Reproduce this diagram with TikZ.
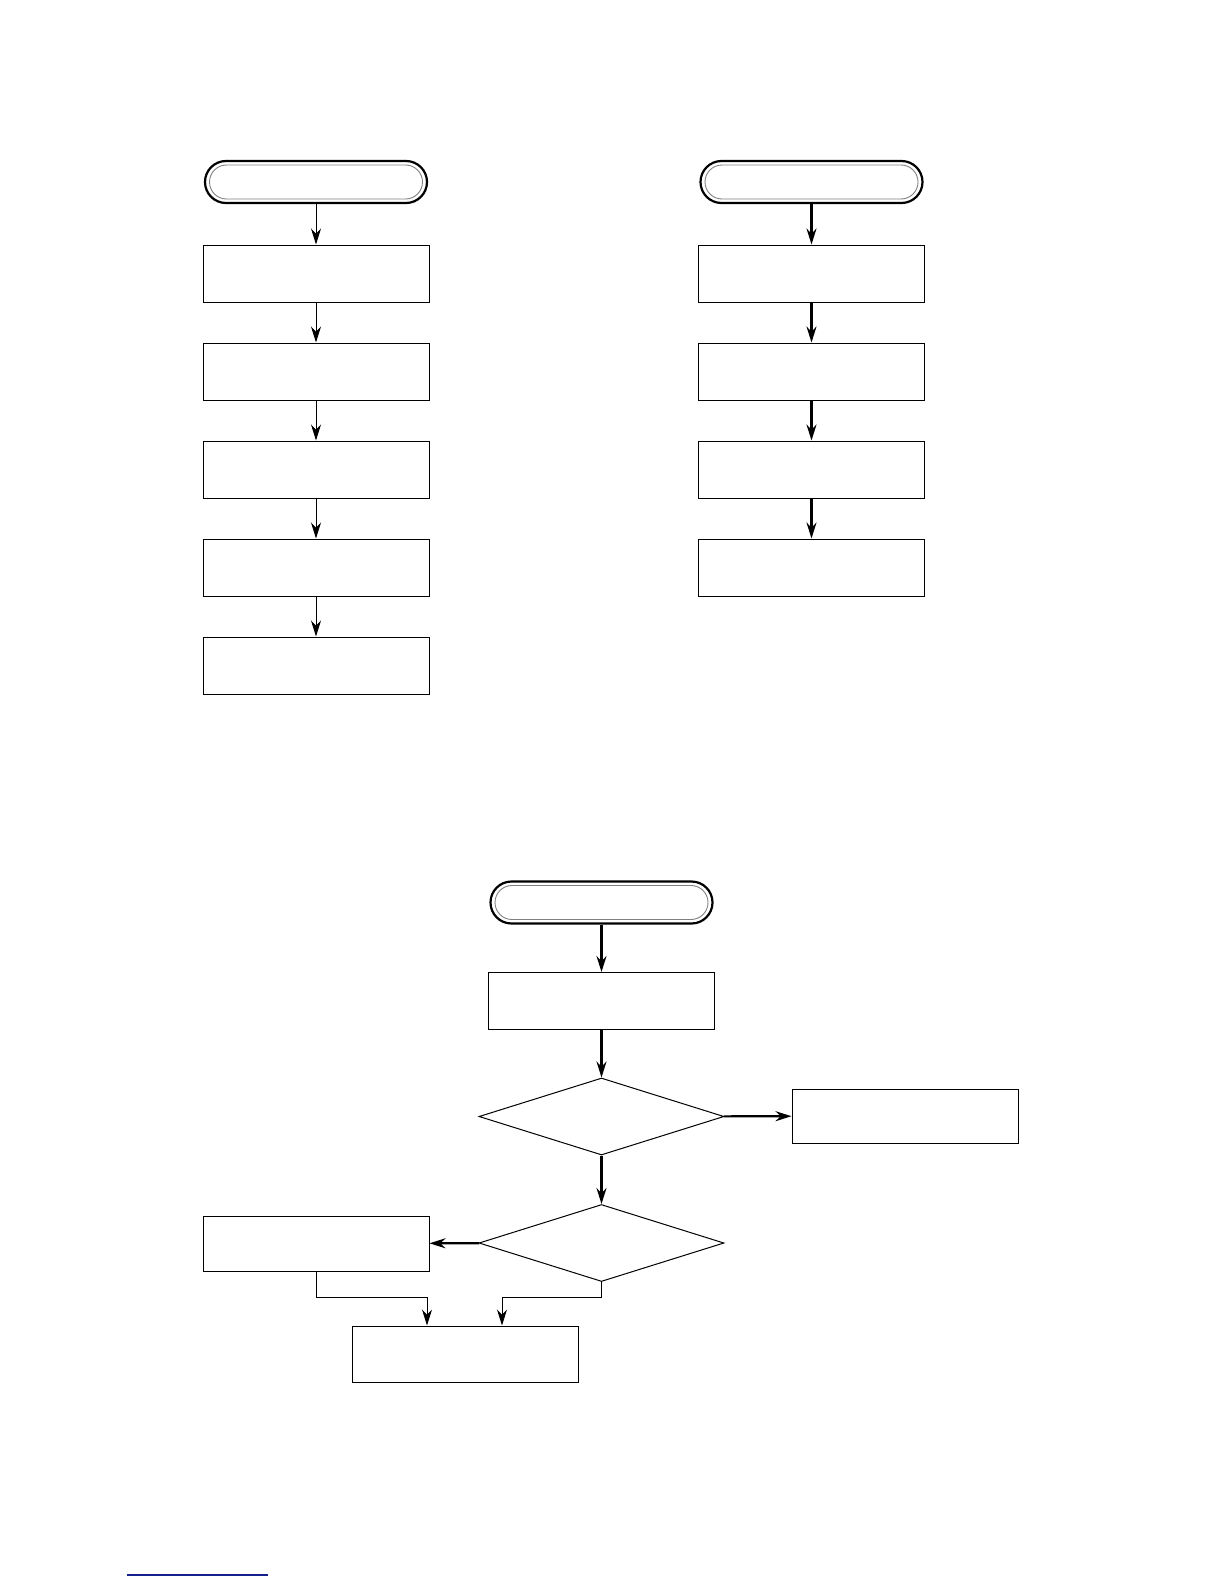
\documentclass[tikz,border=0pt]{standalone}
\usetikzlibrary{shapes.misc,shapes.geometric,arrows.meta}
\tikzset{
  termbox/.style={rounded rectangle, draw, line width=1.1pt,
    minimum width=111pt, minimum height=21pt, inner sep=0pt,
    append after command={node[rounded rectangle, draw=gray, line width=0.45pt,
      minimum width=106.5pt, minimum height=17pt, inner sep=0pt] at (\tikzlastnode) {}}},
  procbox/.style={rectangle, draw, line width=0.5pt, minimum width=113pt, minimum height=28.5pt, inner sep=0pt},
  decbox/.style={diamond, draw, line width=0.5pt, minimum width=122.5pt, minimum height=38.5pt, inner sep=0pt},
  thinflow/.style={-{Stealth[length=8pt,width=5pt]}, line width=0.45pt},
  flow/.style={-{Stealth[length=8pt,width=5pt]}, line width=1.05pt},
}
\begin{document}
\begin{tikzpicture}[x=0.5pt,y=-0.5pt]
\useasboundingbox (0,0) rectangle (1224,1584);
% left column
\node[termbox] (ls) at (316,182) {};
\node[procbox] (l1) at (316,273.5) {};
\node[procbox] (l2) at (316,371.5) {};
\node[procbox] (l3) at (316,469.5) {};
\node[procbox] (l4) at (316,567.5) {};
\node[procbox] (l5) at (316,665.5) {};
\draw[thinflow] (ls) -- (l1);
\draw[thinflow] (l1) -- (l2);
\draw[thinflow] (l2) -- (l3);
\draw[thinflow] (l3) -- (l4);
\draw[thinflow] (l4) -- (l5);
% right column
\node[termbox] (rs) at (811.5,182) {};
\node[procbox] (r1) at (811.5,273.5) {};
\node[procbox] (r2) at (811.5,371.5) {};
\node[procbox] (r3) at (811.5,469.5) {};
\node[procbox] (r4) at (811.5,567.5) {};
\draw[flow] (rs) -- (r1);
\draw[flow] (r1) -- (r2);
\draw[flow] (r2) -- (r3);
\draw[flow] (r3) -- (r4);
% lower chart
\node[termbox] (bs) at (601.5,902.5) {};
\node[procbox] (b1) at (601.5,1001) {};
\node[decbox] (q1) at (601.5,1116.5) {};
\node[procbox, minimum height=27pt] (yes1) at (905,1116) {};
\node[decbox] (q2) at (601.5,1243) {};
\node[procbox, minimum height=27.5pt] (yes2) at (316,1243.5) {};
\node[procbox, minimum height=28pt] (fin) at (465.5,1354) {};
\coordinate (ja) at (316,1297);
\coordinate (jb) at (601.5,1297);
\draw[flow] (bs) -- (b1);
\draw[flow] (b1) -- (q1);
\draw[flow] (q1) -- (yes1);
\draw[flow] (q1) -- (q2);
\draw[flow] (q2) -- (yes2);
\draw[thinflow] (yes2) -- (ja) -| (fin.north -| 427,0);
\draw[thinflow] (q2) -- (jb) -| (fin.north -| 502,0);
% link underline
\draw[draw={rgb,255:red,20;green,30;blue,140}, line width=0.8pt] (127,1575) coordinate (ua) -- (268,1575) coordinate (ub);
\end{tikzpicture}
\end{document}
